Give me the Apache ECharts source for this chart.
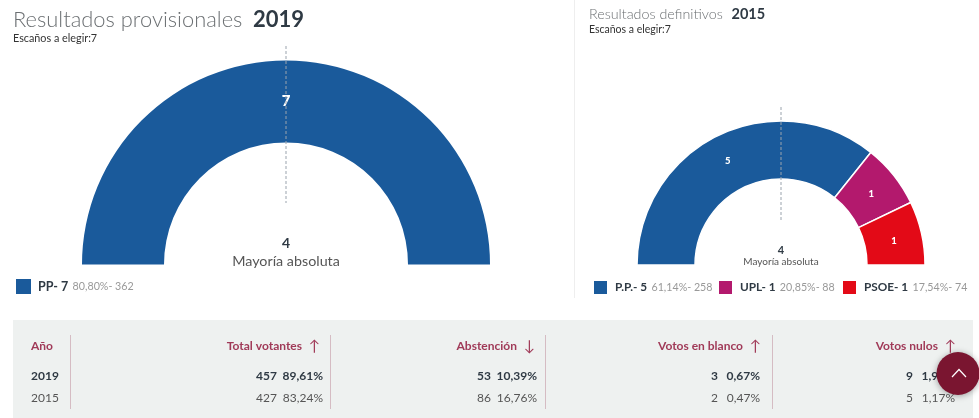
<!DOCTYPE html>
<html lang="es">
<head>
    <meta charset="utf-8">
    <title>Resultados</title>
    <script src="https://cdn.jsdelivr.net/npm/echarts@6/dist/echarts.min.js"></script>
    <style>
        html, body { margin: 0; padding: 0; background: #fff; }
        #main { width: 979px; height: 418px; }
    </style>
</head>
<body>
<div id="main"></div>
<script>
    // 2019
    var parties2019 = ['PP'];
    var seats2019 = [7];
    var pct2019 = ['80,80%'];
    var votes2019 = [362];
    var colors2019 = ['#1a5a9b'];

    // 2015
    var parties2015 = ['P.P.', 'UPL', 'PSOE'];
    var seats2015 = [5, 1, 1];
    var pct2015 = ['61,14%', '20,85%', '17,54%'];
    var votes2015 = [258, 88, 74];
    var colors2015 = ['#1a5a9b', '#b3196d', '#e30a17'];

    // tabla inferior
    var tableHeaders = ['Total votantes', 'Abstención', 'Votos en blanco', 'Votos nulos'];
    var tableArrows = ['↑', '↓', '↑', '↑'];
    var tableYears = ['2019', '2015'];
    var counts2019 = [457, 53, 3, 9];
    var shares2019 = ['89,61%', '10,39%', '0,67%', '1,97%'];
    var counts2015 = [427, 86, 2, 5];
    var shares2015 = ['83,24%', '16,76%', '0,47%', '1,17%'];

    var font = 'Lato';
    var colRight = [323, 537, 760, 955];
    var arrowRight = [319, 534, 760, 955];
    var countRight = [277, 491, 718, 913];

    function pieData(names, values) {
        return names.map(function (n, i) { return { name: n, value: values[i] }; });
    }

    function txt(x, y, text, size, color, weight, align) {
        return {
            type: 'text', x: x, y: y, z: 20, silent: true,
            style: {
                text: text, fontFamily: font, fontSize: size, fill: color,
                fontWeight: weight || 'normal', align: align || 'left', verticalAlign: 'middle'
            }
        };
    }

    function line(x1, y1, x2, y2, color, dash, z) {
        return {
            type: 'line', z: z || 5, silent: true,
            shape: { x1: x1, y1: y1, x2: x2, y2: y2 },
            style: { stroke: color, lineWidth: 1, lineDash: dash || null }
        };
    }

    var graphics = [
        { type: 'rect', z: 1, silent: true, shape: { x: 13, y: 320, width: 960, height: 98 }, style: { fill: '#eef1f0' } },
        line(574.5, 0, 574.5, 298, '#eeeeee'),
        txt(13, 20, 'Resultados provisionales', 21.9, '#6b6f72', 300),
        txt(253, 20, '2019', 22, '#2f3a44', 'bold'),
        txt(13, 39, 'Escaños a elegir:7', 10.8, '#333'),
        txt(589, 14, 'Resultados definitivos', 14.3, '#6b6f72', 300),
        txt(731.5, 14, '2015', 14.5, '#2f3a44', 'bold'),
        txt(589, 30, 'Escaños a elegir:7', 10.5, '#333'),
        line(286, 46, 286, 203, '#9aa3ad', [3, 2], 10),
        line(781, 107, 781, 222, '#9aa3ad', [3, 2], 10),
        txt(286, 243, '4', 14, '#2f3a44', 'bold', 'center'),
        txt(286, 261, 'Mayoría absoluta', 14.3, '#555', 'normal', 'center'),
        txt(781, 250.5, '4', 11, '#2f3a44', 'bold', 'center'),
        txt(781, 262, 'Mayoría absoluta', 10, '#555', 'normal', 'center'),
        txt(31, 346, 'Año', 12, '#a03a58', 'bold'),
        txt(31, 376, tableYears[0], 12, '#2f3a44', 'bold'),
        txt(31, 398, tableYears[1], 12, '#555')
    ];

    [70.5, 330.5, 545.5, 772.5].forEach(function (x) {
        graphics.push(line(x, 335, x, 409, '#d5bcc3'));
    });

    tableHeaders.forEach(function (h, i) {
        graphics.push(txt(arrowRight[i] - 17, 346, h, 12, '#a03a58', 'bold', 'right'));
        graphics.push(txt(arrowRight[i] + 1, 346, tableArrows[i], 15, '#a03a58', 'normal', 'right'));
        graphics.push(txt(countRight[i], 376, String(counts2019[i]), 12, '#2f3a44', 'bold', 'right'));
        graphics.push(txt(colRight[i], 376, shares2019[i], 12, '#2f3a44', 'bold', 'right'));
        graphics.push(txt(countRight[i], 398, String(counts2015[i]), 12, '#555', 'normal', 'right'));
        graphics.push(txt(colRight[i], 398, shares2015[i], 12, '#555', 'normal', 'right'));
    });

    // boton volver arriba
    graphics.push({
        type: 'circle', z: 30, silent: true,
        shape: { cx: 958, cy: 373.5, r: 21.5 },
        style: { fill: '#7a1530', shadowBlur: 6, shadowColor: 'rgba(0,0,0,0.35)', shadowOffsetY: 1 }
    });
    graphics.push({
        type: 'polyline', z: 31, silent: true,
        shape: { points: [[952, 377], [959, 369.5], [966, 377]] },
        style: { stroke: '#fff', fill: 'none', lineWidth: 1.2 }
    });

    // una leyenda por partido para fijar la posicion de cada cuadro
    function legendOf(name, left, pct, votes, seats, size) {
        return {
            left: left, top: 279, orient: 'horizontal', itemWidth: 15, itemHeight: 15,
            padding: 0, selectedMode: false, data: [name], icon: 'rect',
            formatter: function () {
                return '{a|' + name + '- ' + seats + '} {b|' + pct + '- ' + votes + '}';
            },
            textStyle: {
                rich: {
                    a: { fontFamily: font, fontSize: size, fontWeight: 'bold', color: '#2f3a44', padding: [0, 1, 0, 2] },
                    b: { fontFamily: font, fontSize: 10.7, color: '#999' }
                }
            }
        };
    }

    var legends = [legendOf(parties2019[0], 16, pct2019[0], votes2019[0], seats2019[0], 12.5)];
    var legendLeft = [592, 717, 841];
    parties2015.forEach(function (p, i) {
        legends.push(legendOf(p, legendLeft[i], pct2015[i], votes2015[i], seats2015[i], 11.8));
    });

    var myChart = echarts.init(document.getElementById('main'));
    myChart.setOption({
        animation: false,
        legend: legends,
        graphic: graphics,
        series: [{
            type: 'pie',
            center: [286, 264.5],
            radius: [122, 204],
            startAngle: 180,
            endAngle: 0,
            silent: true,
            color: colors2019,
            label: { position: 'inside', formatter: '{c}', color: '#fff', fontFamily: font, fontWeight: 900, fontSize: 15 },
            labelLayout: { dy: 3 },
            labelLine: { show: false },
            data: pieData(parties2019, seats2019)
        }, {
            type: 'pie',
            center: [781, 265],
            radius: [86, 144],
            startAngle: 180,
            endAngle: 0,
            silent: true,
            color: colors2015,
            itemStyle: { borderColor: '#fff', borderWidth: 1.5 },
            label: { position: 'inside', formatter: '{c}', color: '#fff', fontFamily: font, fontWeight: 900, fontSize: 9.5 },
            labelLayout: { dx: -2, dy: 2.5 },
            labelLine: { show: false },
            data: pieData(parties2015, seats2015)
        }]
    });
</script>
</body>
</html>
